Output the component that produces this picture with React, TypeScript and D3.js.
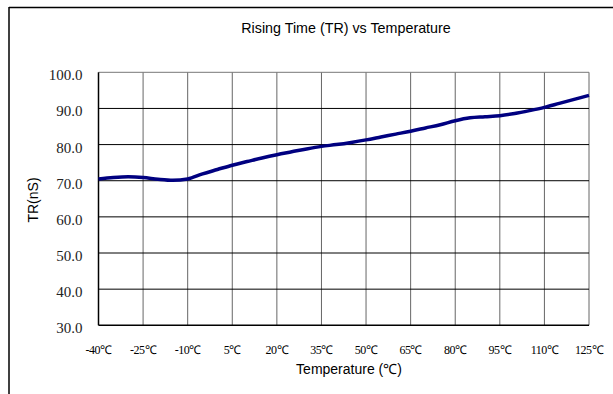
import React from 'react';
import * as d3 from 'd3';

// readings, every 5 degrees
const temps = [
  -40, -35, -30, -25, -20, -15, -10, -5, 0, 5, 10, 15, 20, 25, 30, 35, 40, 45, 50, 55, 60,
  65, 70, 75, 80, 85, 90, 95, 100, 105, 110, 115, 120, 125,
];
const trValues = [
  70.5, 70.9, 71.1, 70.9, 70.4, 70.1, 70.5, 71.9, 73.1, 74.3, 75.3, 76.3, 77.2, 78.0, 78.8,
  79.5, 80.0, 80.6, 81.3, 82.1, 82.9, 83.7, 84.6, 85.5, 86.6, 87.4, 87.7, 88.0, 88.6, 89.4,
  90.3, 91.4, 92.5, 93.6,
];
const xTicks = [-40, -25, -10, 5, 20, 35, 50, 65, 80, 95, 110, 125];
const yTicks = [30, 40, 50, 60, 70, 80, 90, 100];

const title = 'Rising Time (TR) vs Temperature';
const xTitle = 'Temperature (℃)';
const yTitle = 'TR(nS)';

export default function App() {
  const width = 613;
  const height = 394;
  const left = 98.5;
  const right = 589;
  const top = 72.3;
  const bottom = 325.3;

  const x = d3.scaleLinear().domain([-40, 125]).range([left, right]);
  const y = d3.scaleLinear().domain([30, 100]).range([bottom, top]);

  const line = d3
    .line<number>()
    .x((_, i) => x(temps[i]))
    .y((d) => y(d))
    .curve(d3.curveMonotoneX);

  const serif = '"Liberation Serif", "Times New Roman", serif';
  const sans = '"Liberation Sans", Arial, sans-serif';

  return (
    <svg
      width={width}
      height={height}
      style={{ position: 'absolute', left: 0, top: 0, background: '#fff' }}
    >
      {/* outer frame */}
      <line x1={9} x2={width} y1={7.5} y2={7.5} stroke="#000" strokeWidth={1.5} />
      <line x1={9} x2={9} y1={7} y2={height} stroke="#000" strokeWidth={1.5} />

      <text x={346} y={33} textAnchor="middle" fontFamily={sans} fontSize={14.3}>
        {title}
      </text>

      {/* vertical grid */}
      {xTicks.slice(1).map((t) => (
        <line
          key={'vx' + t}
          x1={x(t)}
          x2={x(t)}
          y1={top}
          y2={bottom}
          stroke="#666"
          strokeWidth={1}
        />
      ))}
      <line x1={left} x2={right} y1={top} y2={top} stroke="#777" strokeWidth={1} />

      {/* horizontal grid */}
      {yTicks.slice(1, -1).map((t) => (
        <line
          key={'hy' + t}
          x1={left}
          x2={right}
          y1={y(t)}
          y2={y(t)}
          stroke="#000"
          strokeWidth={1}
        />
      ))}

      {/* axes */}
      <line x1={left} x2={left} y1={top} y2={bottom} stroke="#000" strokeWidth={1.5} />
      <line x1={left} x2={right} y1={bottom} y2={bottom} stroke="#000" strokeWidth={1.5} />

      {yTicks.map((t) => (
        <text
          key={'yl' + t}
          x={82.5}
          y={y(t) + 8}
          textAnchor="end"
          fontFamily={serif}
          fontSize={15}
          fill="#222"
        >
          {t.toFixed(1)}
        </text>
      ))}

      {xTicks.map((t) => (
        <text
          key={'xl' + t}
          x={x(t)}
          y={354}
          textAnchor="middle"
          fontFamily={serif}
          fontSize={12}
          letterSpacing={-0.5}
        >
          {t}℃
        </text>
      ))}

      <path d={line(trValues) || ''} fill="none" stroke="#000080" strokeWidth={3.5} />

      <text x={349} y={374} textAnchor="middle" fontFamily={sans} fontSize={14}>
        {xTitle}
      </text>
      <text
        transform={`translate(38,200) rotate(-90)`}
        textAnchor="middle"
        fontFamily={sans}
        fontSize={14}
      >
        {yTitle}
      </text>
    </svg>
  );
}
